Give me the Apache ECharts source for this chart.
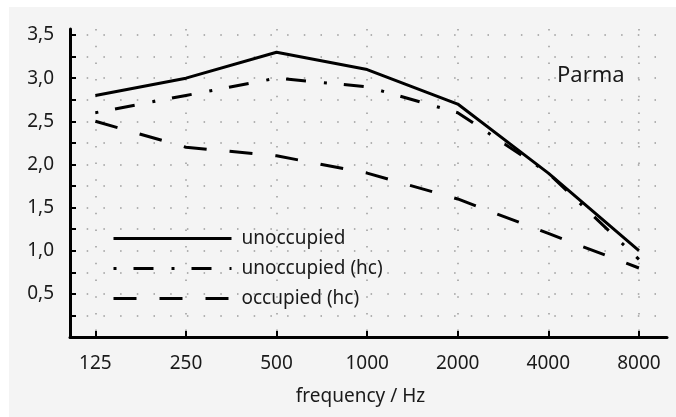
<!DOCTYPE html>
<html>
<head>
<meta charset="utf-8">
<script src="https://cdn.jsdelivr.net/npm/echarts@6/dist/echarts.min.js"></script>
<style>
  html, body { margin: 0; padding: 0; background: #ffffff; }
  #chart-container { position: absolute; left: 9px; top: 7px; width: 667px; height: 410px; }
</style>
</head>
<body>
<div id="chart-container"></div>
<script>
// 数据
var freqs = ['125', '250', '500', '1000', '2000', '4000', '8000'];
var unoccupied = [2.8, 3.0, 3.3, 3.1, 2.7, 1.9, 1.0];
var unoccupiedHc = [2.6, 2.8, 3.0, 2.9, 2.6, 1.9, 0.9];
var occupiedHc = [2.5, 2.2, 2.1, 1.9, 1.6, 1.2, 0.8];
var yTicks = [0.25, 0.5, 0.75, 1.0, 1.25, 1.5, 1.75, 2.0, 2.25, 2.5, 2.75, 3.0, 3.25, 3.5];
var yLabels = [0.5, 1.0, 1.5, 2.0, 2.5, 3.0, 3.5];

var xIdx = freqs.map(function (f, i) { return i; });
function pairs(arr) {
  return arr.map(function (v, i) { return [i, v]; });
}

var container = document.getElementById('chart-container');
var myChart = echarts.init(container);

var dotted = { color: '#9a9a9a', width: 1.5, type: [1.5, 15.2] };

myChart.setOption({
  animation: false,
  backgroundColor: '#f4f4f4',
  textStyle: { fontFamily: 'Noto Sans', color: '#1a1a1a' },
  title: {
    text: 'Parma',
    left: 548,
    top: 58,
    padding: 0,
    textStyle: { fontSize: 22, fontWeight: 'normal', color: '#1a1a1a', fontFamily: 'Noto Sans' }
  },
  legend: {
    orient: 'vertical',
    left: 103,
    top: 222,
    padding: 0,
    itemWidth: 118,
    itemHeight: 14,
    itemGap: 11,
    itemStyle: { opacity: 0 },
    lineStyle: { width: 3 },
    textStyle: { fontSize: 19, color: '#1a1a1a', lineHeight: 14, padding: [4, 0, 0, 5] },
    data: ['unoccupied', 'unoccupied (hc)', 'occupied (hc)']
  },
  grid: { left: 61, right: 9, top: 22, bottom: 80 },
  xAxis: {
    type: 'value',
    min: -0.28,
    max: 6.31,
    name: 'frequency / Hz',
    nameLocation: 'middle',
    nameGap: 50,
    nameTextStyle: { fontSize: 19, color: '#1a1a1a', padding: [0, 16, 0, 0] },
    axisLine: { show: true, onZero: false, lineStyle: { color: '#000', width: 3 } },
    axisTick: { show: true, inside: true, length: 6, customValues: xIdx, lineStyle: { color: '#000', width: 2 } },
    axisLabel: {
      fontSize: 19, color: '#1a1a1a', margin: 17, customValues: xIdx,
      formatter: function (v) { return freqs[Math.round(v)]; }
    },
    splitLine: { show: true, lineStyle: dotted }
  },
  yAxis: {
    type: 'value',
    min: 0,
    max: 3.57,
    axisLine: { show: true, onZero: false, lineStyle: { color: '#000', width: 3 } },
    axisTick: { show: true, inside: true, length: 6, customValues: yTicks, lineStyle: { color: '#000', width: 2 } },
    axisLabel: {
      fontSize: 19, color: '#1a1a1a', margin: 16, customValues: yLabels, padding: [4, 0, 0, 0],
      formatter: function (v) { return v.toFixed(1).replace('.', ','); }
    },
    splitLine: { show: true, lineStyle: dotted }
  },
  series: [
    {
      name: 'unoccupied',
      type: 'line',
      symbol: 'none',
      color: '#000',
      lineStyle: { color: '#000', width: 3 },
      data: pairs(unoccupied)
    },
    {
      name: 'unoccupied (hc)',
      type: 'line',
      symbol: 'none',
      color: '#000',
      lineStyle: { color: '#000', width: 3, type: [3, 17, 20, 18] },
      data: pairs(unoccupiedHc)
    },
    {
      name: 'occupied (hc)',
      type: 'line',
      symbol: 'none',
      color: '#000',
      lineStyle: { color: '#000', width: 3, type: [23, 23] },
      data: pairs(occupiedHc)
    }
  ]
});
</script>
</body>
</html>
